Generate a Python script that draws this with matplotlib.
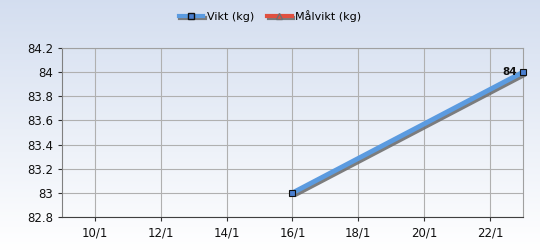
import numpy as np
import matplotlib
matplotlib.use("Agg")
import matplotlib.pyplot as plt
import matplotlib.patheffects as pe
from matplotlib.lines import Line2D

# data (day of January)
days = [16, 23]
vikt = [83.0, 84.0]
malvikt_days = []
malvikt = []
xticks = [10, 12, 14, 16, 18, 20, 22]
xlabels = ["10/1", "12/1", "14/1", "16/1", "18/1", "20/1", "22/1"]
yticks = [82.8, 83.0, 83.2, 83.4, 83.6, 83.8, 84.0, 84.2]
ylabels = ["82.8", "83", "83.2", "83.4", "83.6", "83.8", "84", "84.2"]

fig = plt.figure(figsize=(5.4, 2.5), dpi=100)

# figure background gradient
bg = fig.add_axes([0, 0, 1, 1], zorder=-10)
grad = np.linspace(0, 1, 256).reshape(-1, 1)
top = np.array([0.83, 0.87, 0.94])
bot = np.array([1.0, 1.0, 1.0])
img = top + (bot - top) * grad[:, :, None]
bg.imshow(img, aspect="auto", extent=[0, 1, 0, 1])
bg.axis("off")

ax = fig.add_axes([62 / 540, 1 - 217 / 250, (523 - 62) / 540, (217 - 48) / 250])
ax.patch.set_alpha(0)
ax.set_xlim(9, 23)
ax.set_ylim(82.8, 84.2)

ax.grid(True, color="#b0b0b0", linewidth=0.8)
ax.set_axisbelow(True)

shadow = [pe.SimpleLineShadow(offset=(1.5, -1.5), shadow_color="#707070", alpha=0.9), pe.Normal()]
ax.plot(days, vikt, color="#5b9be0", linewidth=3.5, solid_capstyle="butt", path_effects=shadow,
        zorder=3, clip_on=False)
ax.plot(days, vikt, linestyle="none", marker="s", markersize=5, markerfacecolor="#4a7fd0",
        markeredgecolor="#101010", markeredgewidth=0.8, zorder=4, clip_on=False)
ax.plot(malvikt_days, malvikt, color="#e05040", linewidth=3.5)

ax.annotate("84", (days[-1], vikt[-1]), xytext=(-4, 0), textcoords="offset points",
            ha="right", va="center", fontsize=7.5, fontweight="bold", color="#101010")

ax.set_xticks(xticks)
ax.set_xticklabels(xlabels)
ax.set_yticks(yticks)
ax.set_yticklabels(ylabels)
ax.tick_params(axis="both", labelsize=8.5, length=3, color="#303030", labelcolor="#101010")
for s in ["top", "right"]:
    ax.spines[s].set_color("#a0a0a0")
ax.spines["left"].set_color("#808080")
ax.spines["bottom"].set_color("#404040")

lshadow = [pe.SimpleLineShadow(offset=(1, -1.5), shadow_color="#707070", alpha=0.9), pe.Normal()]
h1a = Line2D([], [], color="#5b9be0", linewidth=3, path_effects=lshadow)
h1b = Line2D([], [], linestyle="none", marker="s", markersize=4.5,
             markerfacecolor="#4a7fd0", markeredgecolor="#101010")
h2a = Line2D([], [], color="#e05040", linewidth=3, path_effects=lshadow)
h2b = Line2D([], [], linestyle="none", marker="^", markersize=4,
             markerfacecolor="#e05040", markeredgecolor="#707070")
fig.legend([(h1a, h1b), (h2a, h2b)], ["Vikt (kg)", "Målvikt (kg)"], loc="upper center",
           bbox_to_anchor=(0.5, 1.0), ncol=2, frameon=False, fontsize=8, handlelength=2.2,
           handletextpad=0.3, columnspacing=1.2)

fig.savefig("out.png", dpi=100)
